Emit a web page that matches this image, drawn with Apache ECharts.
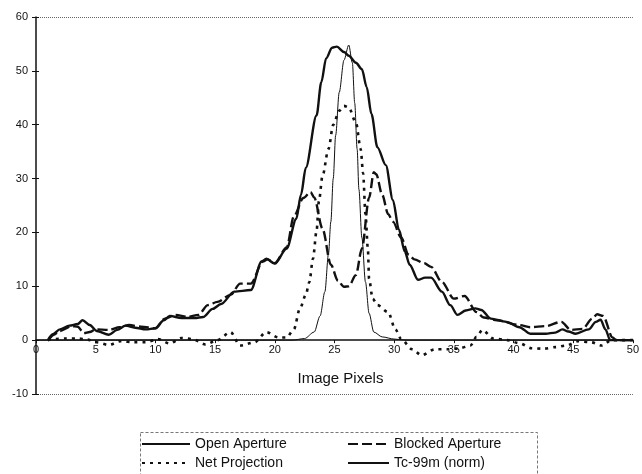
<!DOCTYPE html>
<html>
<head>
<meta charset="utf-8">
<script src="https://cdn.jsdelivr.net/npm/echarts@6/dist/echarts.min.js"></script>
<style>
  html, body { margin: 0; padding: 0; background: #fff; }
  #chart { width: 642px; height: 474px; }
</style>
</head>
<body>
<div id="chart"></div>
<script>
// Profile across the source image: counts per pixel for each acquisition
const openAperture = [
  [1, 0], [1.4, 1.1], [2, 2], [2.8, 2.7], [3.5, 3], [3.9, 3.7], [4.5, 2.8], [5.1, 1.7],
  [6.1, 1], [6.8, 1.9], [7.5, 2.7], [8.3, 2.3], [9.2, 2], [10, 2.2], [10.7, 3.7], [11.2, 4.5],
  [12.2, 4.1], [13.3, 4.1], [14, 4.3], [14.8, 5.8], [15.5, 6.7], [16.6, 9], [18, 9.3],
  [18.9, 14.6], [19.3, 15.1], [20, 14.2], [21, 17], [21.8, 22.5], [22.2, 27], [22.6, 32],
  [23.5, 41.7], [23.9, 47.9], [24.3, 52.3], [24.8, 54.3], [25.2, 54.5], [25.8, 53.5],
  [26.2, 52.8], [26.8, 51.5], [27.3, 50.3], [27.7, 47], [28.1, 42], [28.6, 35.8], [29.3, 32.5],
  [29.9, 26], [30.4, 20.5], [30.9, 16.4], [31.3, 14], [32, 11.2], [32.6, 11.6], [33.1, 11.6],
  [34, 9], [34.7, 6.5], [35.3, 4.7], [36, 5.5], [36.8, 5.9], [37.3, 5.6], [38.1, 4], [39.4, 3.4],
  [40.5, 2.4], [41.4, 1.2], [42.7, 1.2], [43.5, 1.4], [44.1, 2], [44.6, 1.6], [45.2, 1.2],
  [46.3, 2], [46.9, 3.4], [47.3, 3.8], [47.7, 2], [48.1, 0], [50, 0]
];

const blockedAperture = [
  [1.1, 0.2], [1.5, 1], [2, 1.7], [3, 2.6], [3.5, 2.5], [4, 1.3], [4.5, 1.5], [5, 2],
  [6.1, 1.9], [7, 2.4], [7.8, 2.8], [8.8, 2.5], [10, 2.2], [10.8, 4], [11.7, 4.7], [12.7, 4.3],
  [13.6, 4.7], [14.4, 6.5], [15.2, 7.1], [16.3, 8.4], [17.1, 10.5], [18, 10.5], [19, 14.6],
  [19.4, 15], [20, 14.3], [21, 17.2], [21.6, 23], [22.4, 26.4], [23, 27.5], [23.3, 26.5],
  [24, 20.7], [24.7, 14], [25.3, 11], [25.8, 9.9], [26.2, 10], [26.8, 12.1], [27.3, 17],
  [27.9, 26.4], [28.3, 31.2], [28.5, 30.8], [29, 27], [29.5, 23.4], [29.9, 22], [30.6, 19],
  [31.2, 15.9], [31.7, 15], [32.5, 14.3], [33.1, 13.6], [34, 10.8], [35, 7.7], [35.9, 8.2],
  [36.9, 5.2], [37.5, 4.2], [38.6, 3.7], [40.5, 2.8], [41.4, 2.4], [42.7, 2.6], [44, 3.4],
  [44.8, 1.9], [45.8, 2.1], [46.6, 4], [47, 4.8], [47.5, 4.5], [48.3, 0.5], [48.6, 0], [50, 0]
];

const netProjection = [
  [1, 0], [1.6, 0.2], [2.5, 0.3], [3.5, 0.3], [4.3, 0.1], [5.1, -0.4], [6.1, -0.9], [7.1, -0.2],
  [8.2, -0.4], [9.2, -0.4], [10.2, 0.2], [11.2, -0.6], [12.2, 0.4], [13.1, 0.2], [14.2, -0.8],
  [15.2, 0], [16.3, 1.5], [17.1, -1], [18.3, -0.4], [19.3, 1.5], [20.3, 0.5], [21, 0.5],
  [21.6, 2], [22.1, 5.8], [22.6, 8.4], [22.9, 10.8], [23.2, 15.1], [23.5, 20.2], [23.7, 25.8],
  [24, 30.5], [24.5, 35.5], [24.9, 40], [25.4, 42.6], [25.8, 43.5], [26.2, 43.2], [26.8, 40.4],
  [27.2, 35.5], [27.4, 31], [27.6, 23.4], [27.8, 17], [27.9, 11.4], [28.2, 7.7], [28.6, 6.5],
  [29.5, 5.2], [30.1, 2], [30.6, 0.2], [31.5, -1.7], [32.3, -2.8], [33.4, -1.7], [34.5, -1.7],
  [35.5, -1.5], [36.4, -1], [36.9, 0.6], [37.4, 1.9], [38.3, 0.3], [39.5, 0], [40.5, -0.6],
  [41.5, -1.5], [42.5, -1.6], [43.5, -1.3], [44.4, -1], [45.4, -0.2], [46.5, -0.4], [47.4, -1],
  [48.2, 0], [50, 0]
];

const tc99mNorm = [
  [0, 0], [21.5, 0], [22.5, 0.3], [23.3, 1.5], [23.8, 4.5], [24.2, 9], [24.5, 16], [24.7, 22],
  [24.9, 30], [25.1, 38], [25.4, 46], [25.8, 52], [26.2, 54.8], [26.5, 51.5], [26.7, 44],
  [26.9, 35.5], [27.05, 28], [27.3, 19], [27.6, 10.8], [27.9, 5], [28.3, 1.5], [29, 0.6],
  [30, 0.2], [31, 0], [50, 0]
];

const seriesNames = ['Open Aperture', 'Blocked Aperture', 'Net Projection', 'Tc-99m (norm)'];
const xTitle = 'Image Pixels';

const font = 'Liberation Sans, Arial, sans-serif';
const ink = '#111';

const Y_MIN = -10, Y_MAX = 60;
const GRID_TOP = 17, GRID_BOTTOM = 80, CHART_H = 474;
// the x axis sits on the zero line: shift it up from the grid bottom
const plotH = CHART_H - GRID_TOP - GRID_BOTTOM;
const zeroShift = plotH * (0 - Y_MIN) / (Y_MAX - Y_MIN);

// dotted frame lines only at the top (60) and bottom (-10) of the value range
const frameColors = ['#666', 'rgba(0,0,0,0)', 'rgba(0,0,0,0)', 'rgba(0,0,0,0)',
  'rgba(0,0,0,0)', 'rgba(0,0,0,0)', 'rgba(0,0,0,0)', '#666'];

const chart = echarts.init(document.getElementById('chart'), null, { renderer: 'canvas' });

function lineSeries(name, data, width, type) {
  return {
    name: name,
    type: 'line',
    data: data,
    symbol: 'none',
    showSymbol: false,
    smooth: 0.3,
    smoothMonotone: 'x',
    lineStyle: { color: ink, width: width, type: type },
    itemStyle: { color: ink },
    animation: false
  };
}

const legendCommon = {
  orient: 'vertical',
  top: 436,
  itemHeight: 10,
  itemGap: 3,
  padding: 0,
  itemStyle: { opacity: 0 },
  textStyle: { fontFamily: font, fontSize: 14, color: ink, lineHeight: 16 }
};

chart.setOption({
  animation: false,
  backgroundColor: '#fff',
  grid: { left: 36, right: 0, top: GRID_TOP, bottom: GRID_BOTTOM, containLabel: false },
  xAxis: {
    type: 'value',
    min: 0,
    max: 50,
    interval: 5,
    position: 'bottom',
    offset: -zeroShift,
    name: xTitle,
    nameLocation: 'middle',
    nameGap: 31,
    nameTextStyle: { fontFamily: font, fontSize: 15, color: ink, padding: [0, 0, 0, 12] },
    axisLine: { onZero: false, lineStyle: { color: ink, width: 1.5 } },
    axisTick: { show: true, length: 3, lineStyle: { color: ink } },
    axisLabel: { fontFamily: font, fontSize: 11, color: ink, margin: 4 },
    splitLine: { show: false }
  },
  yAxis: [
    {
      type: 'value',
      min: Y_MIN,
      max: Y_MAX,
      interval: 10,
      axisLine: { show: true, onZero: false, lineStyle: { color: ink, width: 1.5 } },
      axisTick: { show: true, length: 4, lineStyle: { color: ink } },
      axisLabel: { fontFamily: font, fontSize: 11, color: ink, margin: 8 },
      splitLine: { show: true, lineStyle: { color: frameColors, type: 'dotted', width: 1 } }
    },
    {
      type: 'value',
      min: Y_MIN,
      max: Y_MAX,
      interval: 10,
      position: 'left',
      axisLine: { show: false, onZero: false },
      axisTick: { show: true, inside: true, length: 3, lineStyle: { color: ink } },
      axisLabel: { show: false },
      splitLine: { show: false }
    }
  ],
  legend: [
    Object.assign({}, legendCommon, {
      data: [seriesNames[0], seriesNames[2]],
      left: 141,
      itemWidth: 48
    }),
    Object.assign({}, legendCommon, {
      data: [seriesNames[1], seriesNames[3]],
      left: 347,
      itemWidth: 41
    })
  ],
  graphic: [
    {
      type: 'rect',
      silent: true,
      shape: { x: 140.5, y: 432.5, width: 397, height: 60 },
      style: { fill: 'none', stroke: '#777', lineWidth: 1, lineDash: [3, 2] }
    }
  ],
  series: [
    lineSeries(seriesNames[0], openAperture, 2.4, 'solid'),
    lineSeries(seriesNames[1], blockedAperture, 2.4, [10, 4]),
    lineSeries(seriesNames[2], netProjection, 2.6, [3, 5]),
    lineSeries(seriesNames[3], tc99mNorm, 1, 'solid')
  ]
});
</script>
</body>
</html>
